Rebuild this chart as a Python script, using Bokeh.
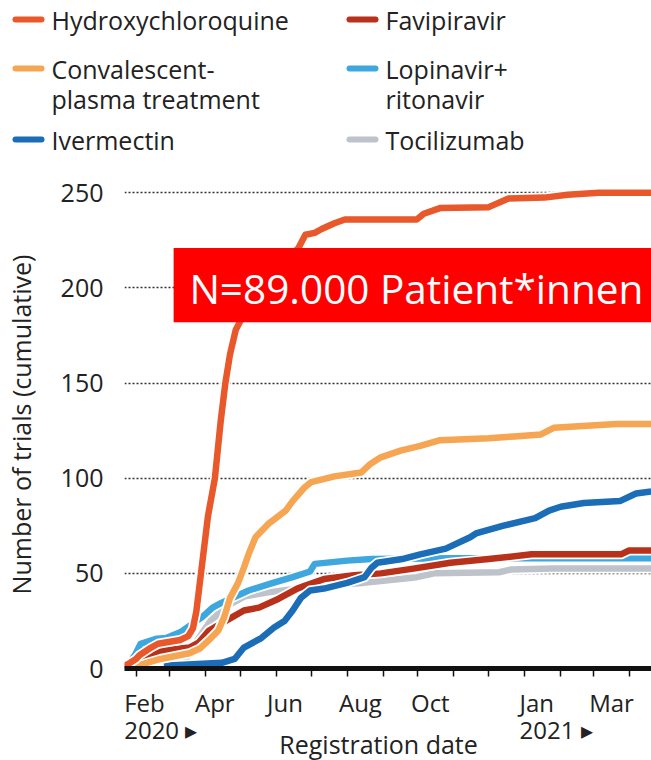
import pandas as pd
from bokeh.plotting import figure
from bokeh.layouts import column
from bokeh.models import Range1d, FixedTicker, BoxAnnotation, Label
from bokeh.embed import file_html
from bokeh.resources import INLINE
from bokeh.core.properties import value

# ---------------- data ----------------
hcq_dates = ["2020-01-21", "2020-01-27", "2020-02-01", "2020-02-04", "2020-02-14", "2020-02-20",
             "2020-03-10", "2020-03-17", "2020-03-21", "2020-03-24", "2020-03-27", "2020-03-30",
             "2020-04-03", "2020-04-09", "2020-04-14", "2020-04-18", "2020-04-22", "2020-04-27",
             "2020-05-03", "2020-05-15", "2020-05-30", "2020-06-10", "2020-06-20", "2020-06-26",
             "2020-07-04", "2020-07-10", "2020-07-21", "2020-07-30", "2020-09-30", "2020-10-06",
             "2020-10-20", "2020-12-01", "2020-12-18", "2021-01-18", "2021-02-07", "2021-03-06",
             "2021-04-20"]
hcq_vals = [1, 3, 5, 7, 11, 13, 15, 17, 21, 30, 45, 60, 80, 100, 130, 150, 165, 178,
            185, 198, 208, 215, 221, 228, 229, 231, 234, 236, 236, 239, 242, 242.5, 247,
            247.5, 249, 250, 250]

cp_dates = ["2020-01-29", "2020-02-08", "2020-02-22", "2020-03-18", "2020-03-27", "2020-04-04",
            "2020-04-12", "2020-04-17", "2020-04-22", "2020-04-29", "2020-05-04", "2020-05-08",
            "2020-05-14", "2020-05-25", "2020-06-09", "2020-06-15", "2020-06-25", "2020-07-01",
            "2020-07-21", "2020-08-13", "2020-08-21", "2020-08-30", "2020-09-16", "2020-10-03",
            "2020-10-20", "2020-12-01", "2020-12-23", "2021-01-15", "2021-01-26", "2021-03-21",
            "2021-04-20"]
cp_vals = [1, 2.5, 5, 8, 10.5, 15, 20, 27, 37, 45, 53, 60, 69, 76, 83, 88, 95, 98, 101,
           103, 107.5, 111, 114.5, 117, 120, 121, 122, 123, 126.5, 128.5, 128.5]

iver_dates = ["2020-02-25", "2020-04-15", "2020-04-26", "2020-05-04", "2020-05-19", "2020-05-30",
              "2020-06-08", "2020-06-15", "2020-06-22", "2020-06-30", "2020-07-12", "2020-08-01",
              "2020-08-16", "2020-08-22", "2020-08-27", "2020-09-19", "2020-10-03", "2020-10-25",
              "2020-11-15", "2020-11-20", "2020-12-13", "2021-01-10", "2021-01-22", "2021-02-01",
              "2021-02-21", "2021-03-24", "2021-04-07", "2021-04-20"]
iver_vals = [1.5, 3, 5, 11, 16, 21.5, 25, 30.5, 37, 41, 42, 45, 48, 53, 55.6, 57.7, 60, 63,
             69, 71, 75, 79, 83, 85, 87, 88, 92, 93]

fav_dates = ["2020-01-30", "2020-02-08", "2020-02-18", "2020-02-25", "2020-03-18", "2020-03-26",
             "2020-04-04", "2020-04-24", "2020-05-04", "2020-05-17", "2020-06-03", "2020-06-19",
             "2020-06-26", "2020-07-12", "2020-08-07", "2020-08-30", "2020-09-27", "2020-10-29",
             "2020-12-01", "2021-01-07", "2021-03-25", "2021-04-01", "2021-04-20"]
fav_vals = [1, 4, 8, 9.5, 11, 13.6, 20, 27, 30.5, 32, 36.7, 42, 43.6, 47, 49, 50, 52.5, 55.6,
            57.5, 60, 60, 62, 62]

lop_dates = ["2020-01-24", "2020-01-31", "2020-02-05", "2020-02-19", "2020-02-27", "2020-03-10",
             "2020-03-29", "2020-04-07", "2020-04-15", "2020-05-08", "2020-05-27", "2020-06-15",
             "2020-06-30", "2020-07-04", "2020-08-01", "2020-08-22", "2020-11-01", "2021-04-20"]
lop_vals = [1, 7, 13, 15.7, 16, 19, 27, 32, 34.6, 41, 44.6, 48, 51, 55, 56.7, 57.5, 58, 58]

toc_dates = ["2020-03-05", "2020-03-15", "2020-03-25", "2020-04-05", "2020-04-20", "2020-05-05",
             "2020-05-25", "2020-06-20", "2020-07-20", "2020-08-15", "2020-08-30", "2020-09-30",
             "2020-10-15", "2020-12-10", "2020-12-20", "2021-01-25", "2021-04-20"]
toc_vals = [1, 5, 15, 25, 33, 38, 40, 42, 44, 45, 46, 48, 50, 50.6, 52, 52.5, 52.5]

series_names = ["Hydroxychloroquine", "Favipiravir", "Convalescent-\nplasma treatment",
                "Lopinavir+\nritonavir", "Ivermectin", "Tocilizumab"]
series_colors = ["#E8582A", "#B8311A", "#F6A552", "#3DA7DE", "#1A6DB6", "#BEC3CB"]
series_data = [(hcq_dates, hcq_vals), (fav_dates, fav_vals), (cp_dates, cp_vals),
               (lop_dates, lop_vals), (iver_dates, iver_vals), (toc_dates, toc_vals)]
draw_order = [5, 3, 1, 4, 2, 0]  # bottom to top

y_ticks = [0, 50, 100, 150, 200, 250]
tick_months = ["2020-02-01", "2020-03-01", "2020-04-01", "2020-05-01", "2020-06-01",
               "2020-07-01", "2020-08-01", "2020-09-01", "2020-10-01", "2020-11-01",
               "2020-12-01", "2021-01-01", "2021-02-01", "2021-03-01", "2021-04-01"]
tick_labels = ["Feb\n2020 \u25B8", "", "Apr", "", "Jun", "", "Aug", "", "Oct", "", "",
               "Jan\n2021 \u25B8", "", "Mar", ""]

FONT = "Open Sans"
TXT = "#222222"
W = 651


def ms(s):
    return pd.Timestamp(s).value / 1e6


X_RANGE = Range1d(ms("2020-01-22 02:00"), ms("2021-04-20 07:00"))

# ---------------- legend figure ----------------
leg = figure(width=W, height=168, x_range=Range1d(0, W), y_range=Range1d(168, 0),
             output_backend="svg", toolbar_location=None, min_border=0,
             min_border_left=0, min_border_right=0, min_border_top=0, min_border_bottom=0,
             x_axis_location=None, y_axis_location=None, frame_align=False)
leg.grid.visible = False
leg.outline_line_color = None

col_sw = [15, 349]
col_tx = [51, 385]
row_y = [19, 68, 139]
for i, name in enumerate(series_names):
    c = i % 2
    r = i // 2
    leg.segment(x0=[col_sw[c]], y0=[row_y[r]], x1=[col_sw[c] + 26], y1=[row_y[r]],
                line_color=series_colors[i], line_width=6, line_cap="round")
    for k, line in enumerate(name.split("\n")):
        leg.text(x=[col_tx[c]], y=[row_y[r] + 30 * k], text=[line],
                 text_font=value(FONT), text_font_size=value("25px"),
                 text_color=TXT, text_baseline="middle", text_align="left")

# ---------------- main chart ----------------
p = figure(width=W, height=517, x_axis_type="datetime",
           x_range=X_RANGE, y_range=Range1d(0, 256.5),
           output_backend="svg", toolbar_location=None, frame_align=False,
           min_border_left=115, min_border_right=0, min_border_top=12, min_border_bottom=17)
p.outline_line_color = None
p.xgrid.visible = False
p.ygrid.ticker = FixedTicker(ticks=y_ticks)
p.ygrid.grid_line_color = "#333333"
p.ygrid.grid_line_dash = "2 2"
p.ygrid.grid_line_width = 1.5

# y axis
p.yaxis.ticker = FixedTicker(ticks=y_ticks)
p.yaxis.axis_line_color = None
p.yaxis.major_tick_line_color = None
p.yaxis.minor_tick_line_color = None
p.yaxis.major_label_standoff = 15
p.yaxis.major_label_text_font = FONT
p.yaxis.major_label_text_font_size = "25px"
p.yaxis.major_label_text_color = TXT
p.yaxis.axis_label = "Number of trials (cumulative)"
p.yaxis.axis_label_text_font = FONT
p.yaxis.axis_label_text_font_size = "25px"
p.yaxis.axis_label_text_font_style = "normal"
p.yaxis.axis_label_text_color = TXT
p.yaxis.axis_label_standoff = 20

# x axis (ticks only; month labels are set left-aligned in the strip below)
tick_ms = [ms(t) for t in tick_months]
p.xaxis.ticker = FixedTicker(ticks=tick_ms)
p.xaxis.major_label_overrides = {t: "" for t in tick_ms}
p.xaxis.major_label_text_font_size = "0px"
p.xaxis.major_label_standoff = 0
p.xaxis.axis_line_width = 5
p.xaxis.axis_line_color = "#111111"
p.xaxis.major_tick_line_color = "#111111"
p.xaxis.major_tick_line_width = 1.5
p.xaxis.major_tick_out = 8
p.xaxis.major_tick_in = 0
p.xaxis.minor_tick_line_color = None

# lines
for i in draw_order:
    d, v = series_data[i]
    x = pd.to_datetime(d)
    p.line(x, v, line_color="white", line_width=10, line_join="round")
    p.line(x, v, line_color=series_colors[i], line_width=6.5, line_join="round")

# red overlay box
p.add_layout(BoxAnnotation(left=ms("2020-03-04 10:00"), bottom=182, top=221,
                           fill_color="#FF0000", fill_alpha=1, line_color=None))
p.add_layout(Label(x=ms("2020-03-18"), y=199.5, text="N=89.000 Patient*innen",
                   text_font=FONT, text_font_size="40.5px", text_color="white",
                   text_align="left", text_baseline="middle"))

# ---------------- date label strip (shares the x scale) ----------------
bot = figure(width=W, height=75, x_axis_type="datetime", x_range=X_RANGE,
             y_range=Range1d(75, 0), output_backend="svg", toolbar_location=None,
             min_border=0, min_border_left=115, min_border_right=0, min_border_top=0,
             min_border_bottom=0, x_axis_location=None, y_axis_location=None,
             frame_align=False)
bot.grid.visible = False
bot.outline_line_color = None

for t, lab in zip(tick_months, tick_labels):
    if not lab:
        continue
    for k, line in enumerate(lab.split("\n")):
        bot.text(x=[pd.Timestamp(t)], y=[16.8 + 27 * k], text=[line], x_offset=-3,
                 text_font=value(FONT), text_font_size=value("24px"),
                 text_color=TXT, text_baseline="middle", text_align="left")

bot.text(x=[pd.Timestamp("2020-09-01")], y=[58], text=["Registration date"],
         text_font=value(FONT), text_font_size=value("25px"),
         text_color=TXT, text_baseline="middle", text_align="center")

open("out.html", "w").write(file_html(column(leg, p, bot), INLINE))
